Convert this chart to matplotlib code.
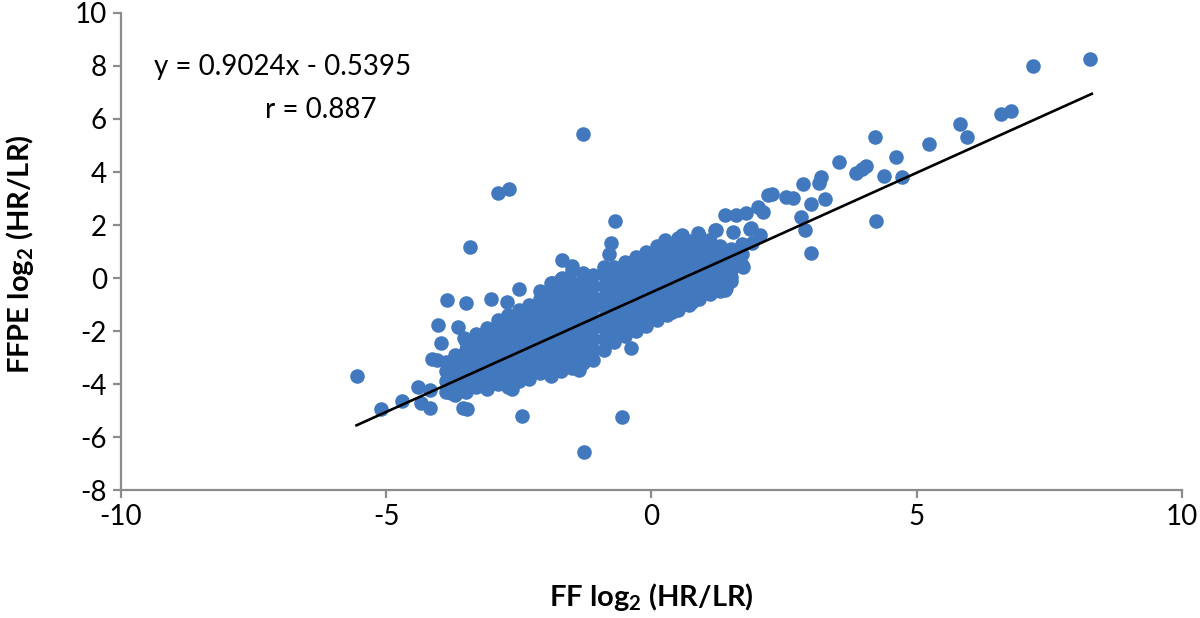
import matplotlib
matplotlib.use("Agg")
import matplotlib.pyplot as plt

plt.rcParams['font.family'] = ['Lato', 'DejaVu Sans']
plt.rcParams['mathtext.fontset'] = 'custom'
plt.rcParams['mathtext.rm'] = 'Lato'
plt.rcParams['mathtext.bf'] = 'Lato:bold'
plt.rcParams['axes.unicode_minus'] = False

# dense core of the cloud, one column of FFPE values per FF value
core_ff = [-3.88, -3.7, -3.5, -3.3, -3.1, -2.9, -2.7, -2.5, -2.3, -2.1,
           -1.9, -1.7, -1.5, -1.3, -1.1, -0.9, -0.7, -0.5, -0.3, -0.1,
           0.1, 0.3, 0.5, 0.7, 0.9, 1.1, 1.3, 1.5, 1.7]
core_ffpe = [
    [-4.3, -3.9, -3.5, -3.15],
    [-4.4, -4.0, -3.6, -3.2, -2.9],
    [-4.3, -3.9, -3.5, -3.1, -2.7, -2.4],
    [-4.1, -3.7, -3.3, -2.9, -2.5, -2.1],
    [-4.2, -3.8, -3.4, -3.0, -2.6, -2.2, -1.9],
    [-4.0, -3.6, -3.2, -2.8, -2.4, -2.0, -1.6],
    [-4.1, -3.7, -3.3, -2.9, -2.5, -2.1, -1.7, -1.4],
    [-3.9, -3.5, -3.1, -2.7, -2.3, -1.9, -1.5, -1.2],
    [-3.8, -3.4, -3.0, -2.6, -2.2, -1.8, -1.4, -1.0],
    [-3.6, -3.2, -2.8, -2.4, -2.0, -1.6, -1.2, -0.8, -0.5],
    [-3.7, -3.3, -2.9, -2.5, -2.1, -1.7, -1.3, -0.9, -0.5, -0.2],
    [-3.5, -3.1, -2.7, -2.3, -1.9, -1.5, -1.1, -0.7, -0.3, -0.05],
    [-3.4, -3.0, -2.6, -2.2, -1.8, -1.4, -1.0, -0.6, -0.2],
    [-3.2, -2.8, -2.4, -2.0, -1.6, -1.2, -0.8, -0.4, 0.0, 0.2],
    [-3.1, -2.7, -2.3, -1.9, -1.5, -1.1, -0.7, -0.3, 0.1],
    [-2.7, -2.3, -1.9, -1.5, -1.1, -0.7, -0.3, 0.1, 0.4],
    [-2.4, -2.0, -1.6, -1.2, -0.8, -0.4, 0.0, 0.4],
    [-2.2, -1.8, -1.4, -1.0, -0.6, -0.2, 0.2, 0.6],
    [-2.0, -1.6, -1.2, -0.8, -0.4, 0.0, 0.4, 0.8],
    [-1.8, -1.4, -1.0, -0.6, -0.2, 0.2, 0.6, 1.0],
    [-1.6, -1.2, -0.8, -0.4, 0.0, 0.4, 0.8, 1.2],
    [-1.4, -1.0, -0.6, -0.2, 0.2, 0.6, 1.0, 1.3],
    [-1.2, -0.8, -0.4, 0.0, 0.4, 0.8, 1.2, 1.5],
    [-1.0, -0.6, -0.2, 0.2, 0.6, 1.0, 1.4],
    [-0.8, -0.4, 0.0, 0.4, 0.8, 1.2, 1.6],
    [-0.6, -0.2, 0.2, 0.6, 1.0, 1.4],
    [-0.5, 0.0, 0.4, 0.8, 1.2],
    [-0.1, 0.3, 0.7, 1.1],
    [0.5, 0.9, 1.3],
]

# scattered genes around the core
ff_out = [-5.56, -5.09, -4.7, -4.41, -4.18, -4.34, -4.18, -3.56, -3.47, -2.45,
          -3.77, -3.66, -2.62, -4.13, -4.05, -3.96, -3.54, -4.03, -3.64, -3.85,
          -3.49, -3.02, -2.73, -2.5, -3.43, -2.9, -2.68, -1.3, -0.68, -0.77,
          -0.81, -1.68, -1.49, -0.55, -1.28, -0.38, -1.36, -1.55,
          -2.73, -1.87, -1.68, -1.49, -1.73, 0.26, 0.57, 0.87, 1.22, -0.09,
          -0.41, -0.74,
          1.38, 1.6, 1.79, 2.0, 2.1, 1.2, 1.53, 1.85, 2.04, 1.88,
          1.7, 1.39, 1.06, 0.9, 1.5, 1.09, 1.28, 1.66, 1.9, 0.77,
          0.38, 1.41, 1.72, 2.19, 2.27, 2.54, 2.66, 2.81, 2.9, 3.0,
          3.01, 3.28, 2.85, 3.15, 3.2, 3.54, 3.86, 3.96, 4.05, 4.24,
          4.39, 4.73, 4.61, 4.22, 5.24, 5.82, 5.94, 6.58, 6.77, 7.2, 8.26]
ffpe_out = [-3.7, -4.95, -4.65, -4.1, -4.23, -4.72, -4.9, -4.9, -4.95, -5.2,
            -4.34, -4.3, -4.19, -3.06, -3.1, -2.45, -2.26, -1.77, -1.85, -0.83,
            -0.94, -0.79, -0.9, -0.42, 1.17, 3.2, 3.36, 5.43, 2.15, 1.32,
            0.9, 0.68, 0.45, -5.25, -6.57, -2.64, -3.47, -3.17,
            -1.47, -0.19, 0.0, 0.3, -0.19, 1.43, 1.62, 1.7, 1.81, 0.94,
            0.57, 0.04,
            2.38, 2.38, 2.45, 2.68, 2.49, 1.8, 1.74, 1.85, 1.62, 1.89,
            0.45, -0.45, -0.26, -0.75, 0.04, 1.43, 1.17, 1.06, 1.32, -0.9,
            -1.28, -0.38, 0.42, 3.13, 3.17, 3.06, 3.02, 2.3, 1.81, 0.94,
            2.79, 2.98, 3.55, 3.58, 3.81, 4.38, 3.96, 4.1, 4.23, 2.15,
            3.85, 3.81, 4.57, 5.32, 5.06, 5.81, 5.32, 6.19, 6.3, 8.0, 8.26]

slope = 0.9024
intercept = -0.5395
r_value = 0.887
fit_range = [-5.56, 8.3]

xs, ys = [], []
for x, col in zip(core_ff, core_ffpe):
    for y in col:
        xs.append(x)
        ys.append(y)
xs += ff_out
ys += ffpe_out

fig = plt.figure(figsize=(12, 6.18), dpi=100)
ax = fig.add_axes([0.1008, 0.207, 0.8842, 0.772])

blue = '#4178be'
ax.scatter(xs, ys, s=110, color=blue, linewidths=0, zorder=2)
ax.plot(fit_range, [slope * v + intercept for v in fit_range],
        color='black', lw=1.9, zorder=3)

ax.set_xlim(-10, 10)
ax.set_ylim(-8, 10)
ax.set_xticks([-10, -5, 0, 5, 10])
ax.set_yticks(range(-8, 11, 2))

for side in ['top', 'right']:
    ax.spines[side].set_visible(False)
for side in ['left', 'bottom']:
    ax.spines[side].set_color('#8c8c8c')
    ax.spines[side].set_linewidth(1.6)
ax.tick_params(direction='out', length=6, width=1.6, color='#8c8c8c',
               labelsize=20, pad=4)

ax.text(-6.96, 7.96, 'y = %.4fx - %.4f' % (slope, -intercept),
        ha='center', va='center', fontsize=20)
ax.text(-6.24, 6.34, 'r = %.3f' % r_value, ha='center', va='center', fontsize=20)

ax.set_xlabel(r'FF log$_\mathbf{2}$ (HR/LR)', fontsize=21, fontweight='bold')
ax.set_ylabel(r'FFPE log$_\mathbf{2}$ (HR/LR)', fontsize=21, fontweight='bold')
ax.xaxis.set_label_coords(0.5, -0.19)
ax.yaxis.set_label_coords(-0.08, 0.495)

fig.savefig('out.png', dpi=100)
